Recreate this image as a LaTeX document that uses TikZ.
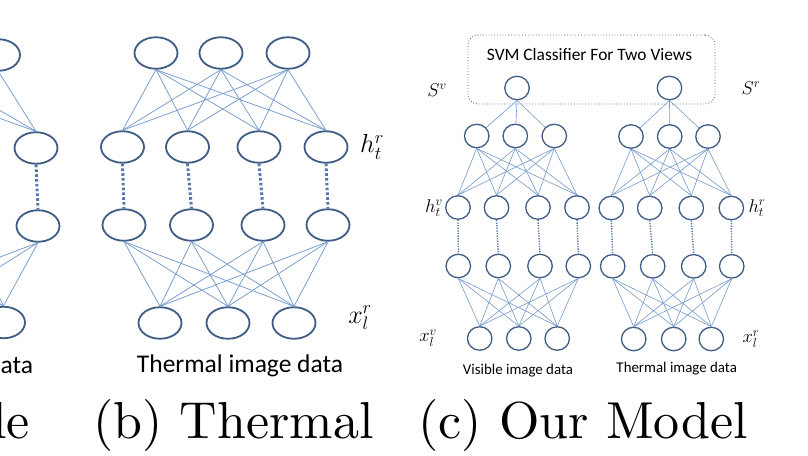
\RequirePackage{fix-cm}
\documentclass[tikz,border=0pt]{standalone}
\usepackage{fontspec}
\usetikzlibrary{shapes.geometric}
\newfontfamily\calib{Carlito}
\newfontfamily\capfont{lmroman10-regular.otf}
\definecolor{nodeln}{RGB}{62,92,132}
\definecolor{edgeln}{RGB}{118,155,204}
\definecolor{dotln}{RGB}{84,120,172}
\definecolor{boxln}{RGB}{80,95,120}
\begin{document}
\begin{tikzpicture}[x=1pt,y=-1pt,
  bigell/.style={ellipse, draw=nodeln, line width=1.8pt, minimum width=43pt, minimum height=31.5pt, inner sep=0pt},
  smallc/.style={ellipse, draw=nodeln, line width=1.3pt, minimum width=24.5pt, minimum height=23.5pt, inner sep=0pt},
  bedge/.style={draw=edgeln, line width=0.75pt},
  sedge/.style={draw=edgeln, line width=0.6pt},
  bdots/.style={draw=dotln, line width=3pt, dash pattern=on 2.6pt off 2.2pt},
  sdots/.style={draw=dotln, line width=1.4pt, dash pattern=on 1.3pt off 1.3pt},
  svmbox/.style={draw=boxln, line width=0.8pt, dotted, rounded corners=10pt, inner sep=0pt, minimum width=247pt, minimum height=69pt},
  biglab/.style={inner sep=0pt, font=\fontsize{26}{30}\selectfont},
  smalllab/.style={inner sep=0pt, font=\fontsize{18.5}{22}\selectfont},
  bigdata/.style={inner sep=0pt, font=\calib\fontsize{25.5}{30}\selectfont},
  smalldata/.style={inner sep=0pt, font=\calib\fontsize{14.9}{18}\selectfont},
  captxt/.style={inner sep=0pt, font=\capfont\fontsize{52}{60}\selectfont},
]
\useasboundingbox (0,0) rectangle (808,455);
\fill[white] (0,0) rectangle (808,455);
\clip (0,0) rectangle (808,455);

% ---------------- panel (a), only its right edge is visible
\node[bigell] (at3) at (-1.5,55) {};
\node[bigell] (ah4) at (36,148) {};
\node[bigell] (ag4) at (38,226) {};
\node[bigell] (ab3) at (3.5,322.5) {};
\coordinate (at1s) at (-134,70.5);
\coordinate (at2s) at (-69,70.5);
\coordinate (ah1n) at (-167.5,131.5);
\coordinate (ah2n) at (-102.5,131.5);
\coordinate (ah3n) at (-31,131.5);
\coordinate (ag1s) at (-166,242.5);
\coordinate (ag2s) at (-98.5,242.5);
\coordinate (ag3s) at (-27,242.5);
\coordinate (ab1n) at (-130,306);
\coordinate (ab2n) at (-62,306);
\foreach \s in {at1s,at2s} \draw[bedge] (\s) -- (ah4.north);
\draw[bedge] (at3.south) -- (ah4.north);
\foreach \t in {ah1n,ah2n,ah3n} \draw[bedge] (at3.south) -- (\t);
\foreach \s in {ag1s,ag2s,ag3s} \draw[bedge] (\s) -- (ab3.north);
\draw[bedge] (ag4.south) -- (ab3.north);
\foreach \t in {ab1n,ab2n} \draw[bedge] (ag4.south) -- (\t);
\draw[bdots] (ah4.south) -- (ag4.north);
\node[bigdata, anchor=west] (adata) at (0.5,366) {ata};
\node[captxt, anchor=base east] (acap) at (30,438) {le};

% ---------------- panel (b)
\node[bigell] (bt1) at (156,53) {};
\node[bigell] (bt2) at (221,53) {};
\node[bigell] (bt3) at (288,53) {};
\node[bigell] (bh1) at (122.5,147) {};
\node[bigell] (bh2) at (187.5,147) {};
\node[bigell] (bh3) at (259,147) {};
\node[bigell] (bh4) at (326,147) {};
\node[bigell] (bg1) at (124,225) {};
\node[bigell] (bg2) at (191.5,225) {};
\node[bigell] (bg3) at (263,225) {};
\node[bigell] (bg4) at (328,225) {};
\node[bigell] (bb1) at (160,323) {};
\node[bigell] (bb2) at (228,323) {};
\node[bigell] (bb3) at (294,323) {};
\foreach \i in {1,2,3} \foreach \j in {1,2,3,4} \draw[bedge] (bt\i.south) -- (bh\j.north);
\foreach \i in {1,2,3,4} \foreach \j in {1,2,3} \draw[bedge] (bg\i.south) -- (bb\j.north);
\foreach \i in {1,2,3,4} \draw[bdots] (bh\i.south) -- (bg\i.north);
\node[biglab] (bhl) at (372,147) {$h_t^r$};
\node[biglab] (bxl) at (360,318) {$x_l^r$};
\node[bigdata] (bdata) at (240,365.5) {Thermal image data};
\node[captxt, anchor=base west] (bcap) at (93,438) {(b) Thermal};

% ---------------- panel (c)
\node[svmbox] (svm) at (591.5,69.5) {};
\node[inner sep=0pt, font=\calib\fontsize{17.4}{21}\selectfont] (svmt) at (589.5,55) {SVM Classifier For Two Views};

% visible branch
\node[smallc] (sv) at (517,88) {};
\node[smallc] (lv1) at (476.7,136) {};
\node[smallc] (lv2) at (515.3,136) {};
\node[smallc] (lv3) at (554.3,136) {};
\node[smallc] (hv1) at (458,207.5) {};
\node[smallc] (hv2) at (496.5,207.5) {};
\node[smallc] (hv3) at (538,207.5) {};
\node[smallc] (hv4) at (577,207.5) {};
\node[smallc] (gv1) at (458.3,266) {};
\node[smallc] (gv2) at (498.3,266) {};
\node[smallc] (gv3) at (540,266) {};
\node[smallc] (gv4) at (578.3,266) {};
\node[smallc] (bv1) at (479.7,338.5) {};
\node[smallc] (bv2) at (518.8,338.5) {};
\node[smallc] (bv3) at (557.2,338.5) {};
\foreach \i in {1,2,3} \draw[sedge] (sv.south) -- (lv\i);
\foreach \i in {1,2,3} \foreach \j in {1,2,3,4} \draw[sedge] (lv\i.south) -- (hv\j.north);
\foreach \i in {1,2,3,4} \foreach \j in {1,2,3} \draw[sedge] (gv\i.south) -- (bv\j.north);
\foreach \i in {1,2,3,4} \draw[sdots] (hv\i.south) -- (gv\i.north);

% thermal branch
\node[smallc] (sr) at (669.5,88) {};
\node[smallc] (lr1) at (631,136.5) {};
\node[smallc] (lr2) at (669.7,136.5) {};
\node[smallc] (lr3) at (708,136.5) {};
\node[smallc] (hr1) at (611.3,208) {};
\node[smallc] (hr2) at (649.7,208) {};
\node[smallc] (hr3) at (691.3,208) {};
\node[smallc] (hr4) at (731.3,208) {};
\node[smallc] (gr1) at (612.7,266.3) {};
\node[smallc] (gr2) at (652.7,266.3) {};
\node[smallc] (gr3) at (693.7,266.3) {};
\node[smallc] (gr4) at (731.7,266.3) {};
\node[smallc] (br1) at (633.7,339) {};
\node[smallc] (br2) at (673.7,339) {};
\node[smallc] (br3) at (711.3,339) {};
\foreach \i in {1,2,3} \draw[sedge] (sr.south) -- (lr\i);
\foreach \i in {1,2,3} \foreach \j in {1,2,3,4} \draw[sedge] (lr\i.south) -- (hr\j.north);
\foreach \i in {1,2,3,4} \foreach \j in {1,2,3} \draw[sedge] (gr\i.south) -- (br\j.north);
\foreach \i in {1,2,3,4} \draw[sdots] (hr\i.south) -- (gr\i.north);

\node[smalllab] (svl) at (437,90) {$S^v$};
\node[smalllab] (srl) at (751,88) {$S^r$};
\node[smalllab] (hvl) at (434,208) {$h_t^v$};
\node[smalllab] (hrl) at (757,208) {$h_t^r$};
\node[smalllab] (xvl) at (428,338) {$x_l^v$};
\node[smalllab] (xrl) at (751,339) {$x_l^r$};
\node[smalldata] (vdata) at (518,371) {Visible image data};
\node[smalldata] (tdata) at (676.7,369) {Thermal image data};
\node[captxt, anchor=base west] (ccap) at (418,438) {(c) Our Model};
\end{tikzpicture}
\end{document}
